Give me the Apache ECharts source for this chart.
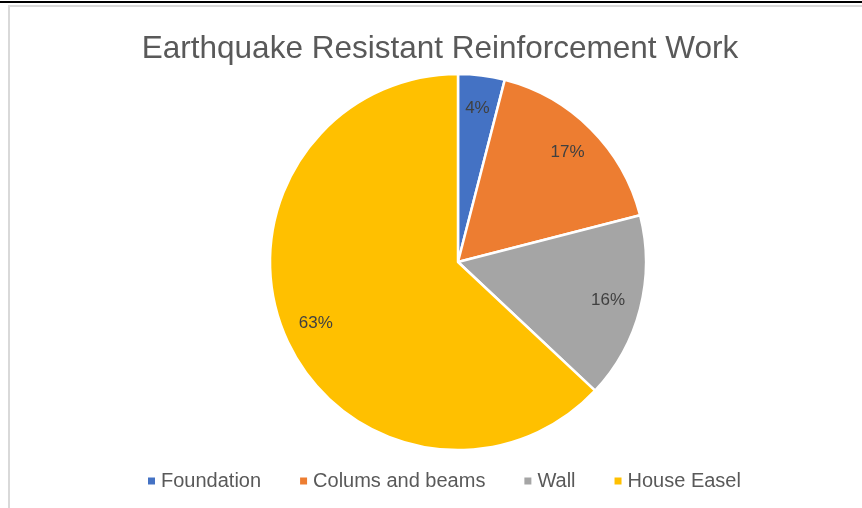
<!DOCTYPE html>
<html>
<head>
<meta charset="utf-8">
<script src="https://cdn.jsdelivr.net/npm/echarts@6/dist/echarts.min.js"></script>
<style>
html, body { margin: 0; padding: 0; background: #fff; }
#main { width: 862px; height: 508px; }
</style>
</head>
<body>
<div id="main"></div>
<script>
var chartTitle = 'Earthquake Resistant Reinforcement Work';
var categories = ['Foundation', 'Colums and beams', 'Wall', 'House Easel'];
var percents = [4, 17, 16, 63];
var colors = ['#4472C4', '#ED7D31', '#A5A5A5', '#FFC000'];

var pieData = [];
for (var i = 0; i < categories.length; i++) {
    pieData.push({ name: categories[i], value: percents[i] });
}

var myChart = echarts.init(document.getElementById('main'));

var option = {
    color: colors,
    animation: false,
    title: {
        text: chartTitle,
        left: 435,
        textAlign: 'center',
        top: 28,
        textStyle: {
            fontFamily: 'Liberation Sans',
            fontSize: 31.5,
            fontWeight: 'normal',
            color: '#595959'
        }
    },
    legend: {
        data: categories,
        left: 141,
        top: 466,
        icon: 'rect',
        itemWidth: 9,
        itemHeight: 9,
        itemGap: 37,
        textStyle: {
            fontFamily: 'Liberation Sans',
            fontSize: 20,
            color: '#595959'
        }
    },
    // 图表外框
    graphic: [
        { type: 'rect', shape: { x: 0, y: 1, width: 862, height: 2 }, style: { fill: '#000' } },
        { type: 'rect', shape: { x: 8, y: 5, width: 854, height: 2 }, style: { fill: '#d9d9d9' } },
        { type: 'rect', shape: { x: 8, y: 5, width: 2, height: 503 }, style: { fill: '#d9d9d9' } }
    ],
    series: [
        {
            name: 'pie',
            type: 'pie',
            center: [458, 262],
            radius: [0, 188],
            startAngle: 90,
            clockwise: true,
            label: { show: false },
            labelLine: { show: false },
            itemStyle: { borderColor: '#fff', borderWidth: 2.5 },
            data: pieData
        },
        {
            // 透明环，只用来放标签
            name: 'labels',
            type: 'pie',
            center: [458, 262],
            radius: [116, 188],
            startAngle: 90,
            clockwise: true,
            silent: true,
            itemStyle: { color: 'rgba(0,0,0,0)' },
            label: {
                show: true,
                position: 'inside',
                formatter: '{c}%',
                fontFamily: 'Liberation Sans',
                fontSize: 17,
                color: '#404040'
            },
            labelLine: { show: false },
            data: pieData
        }
    ]
};

myChart.setOption(option, true);
</script>
</body>
</html>
